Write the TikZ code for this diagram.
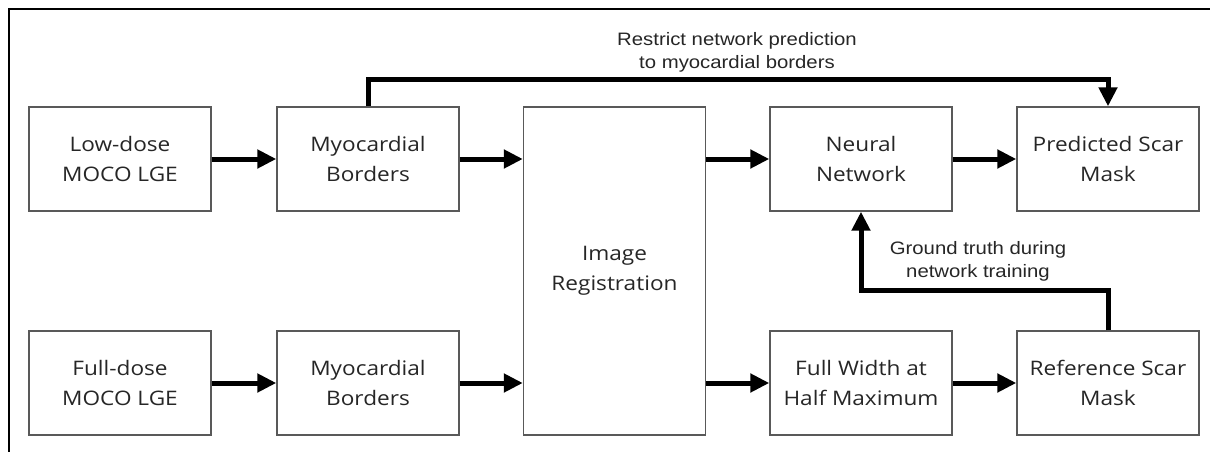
\documentclass[tikz,border=0pt]{standalone}
\usepackage{fontspec}
\setmainfont[FakeStretch=1.13]{Open Sans}
\newfontfamily\notefont[FakeStretch=1.13]{Liberation Sans}
\usetikzlibrary{arrows.meta}
\begin{document}
\begin{tikzpicture}[x=1pt,y=-1pt,
  box/.style={draw=black!65, line width=1.4pt, minimum width=182pt,
    minimum height=104pt, align=center, inner sep=0pt, text=black!85,
    font=\fontsize{20}{30}\selectfont},
  flow/.style={line width=5pt, -{Triangle[length=19pt,width=18pt]}},
  note/.style={align=center, text=black!85, font=\notefont\fontsize{18}{23}\selectfont}]
\useasboundingbox (0,0) rectangle (1210,452);
% frame (top and left edges)
\draw[line width=2.5pt] (9,452) -- (9,9) -- (1210,9);

% processing blocks
\node[box] (low)  at (120,159) {Low-dose\\MOCO LGE};
\node[box] (myo1) at (368,159) {Myocardial\\Borders};
\node[box, minimum height=328pt] (reg) at (614.5,271) {Image\\Registration};
\node[box] (nn)   at (861,159) {Neural\\Network};
\node[box] (pred) at (1108,159) {Predicted Scar\\Mask};
\node[box] (full) at (120,383) {Full-dose\\MOCO LGE};
\node[box] (myo2) at (368,383) {Myocardial\\Borders};
\node[box] (fwhm) at (861,383) {Full Width at\\Half Maximum};
\node[box] (ref)  at (1108,383) {Reference Scar\\Mask};

% connectors
\draw[flow] (low.east) -- (myo1.west);
\draw[flow] (myo1.east) -- (myo1.east -| reg.west);
\draw[flow] (reg.east |- nn.west) -- (nn.west);
\draw[flow] (nn.east) -- (pred.west);
\draw[flow] (full.east) -- (myo2.west);
\draw[flow] (myo2.east) -- (myo2.east -| reg.west);
\draw[flow] (reg.east |- fwhm.west) -- (fwhm.west);
\draw[flow] (fwhm.east) -- (ref.west);
\draw[flow] (myo1.north) -- ++(0,-27) -| (pred.north);
\draw[flow] (ref.north) -- ++(0,-40) -| (nn.south);

% annotations
\node[note] (restrict) at (737,52) {Restrict network prediction\\to myocardial borders};
\node[note] (truth) at (978,261) {Ground truth during\\network training};
\end{tikzpicture}
\end{document}
